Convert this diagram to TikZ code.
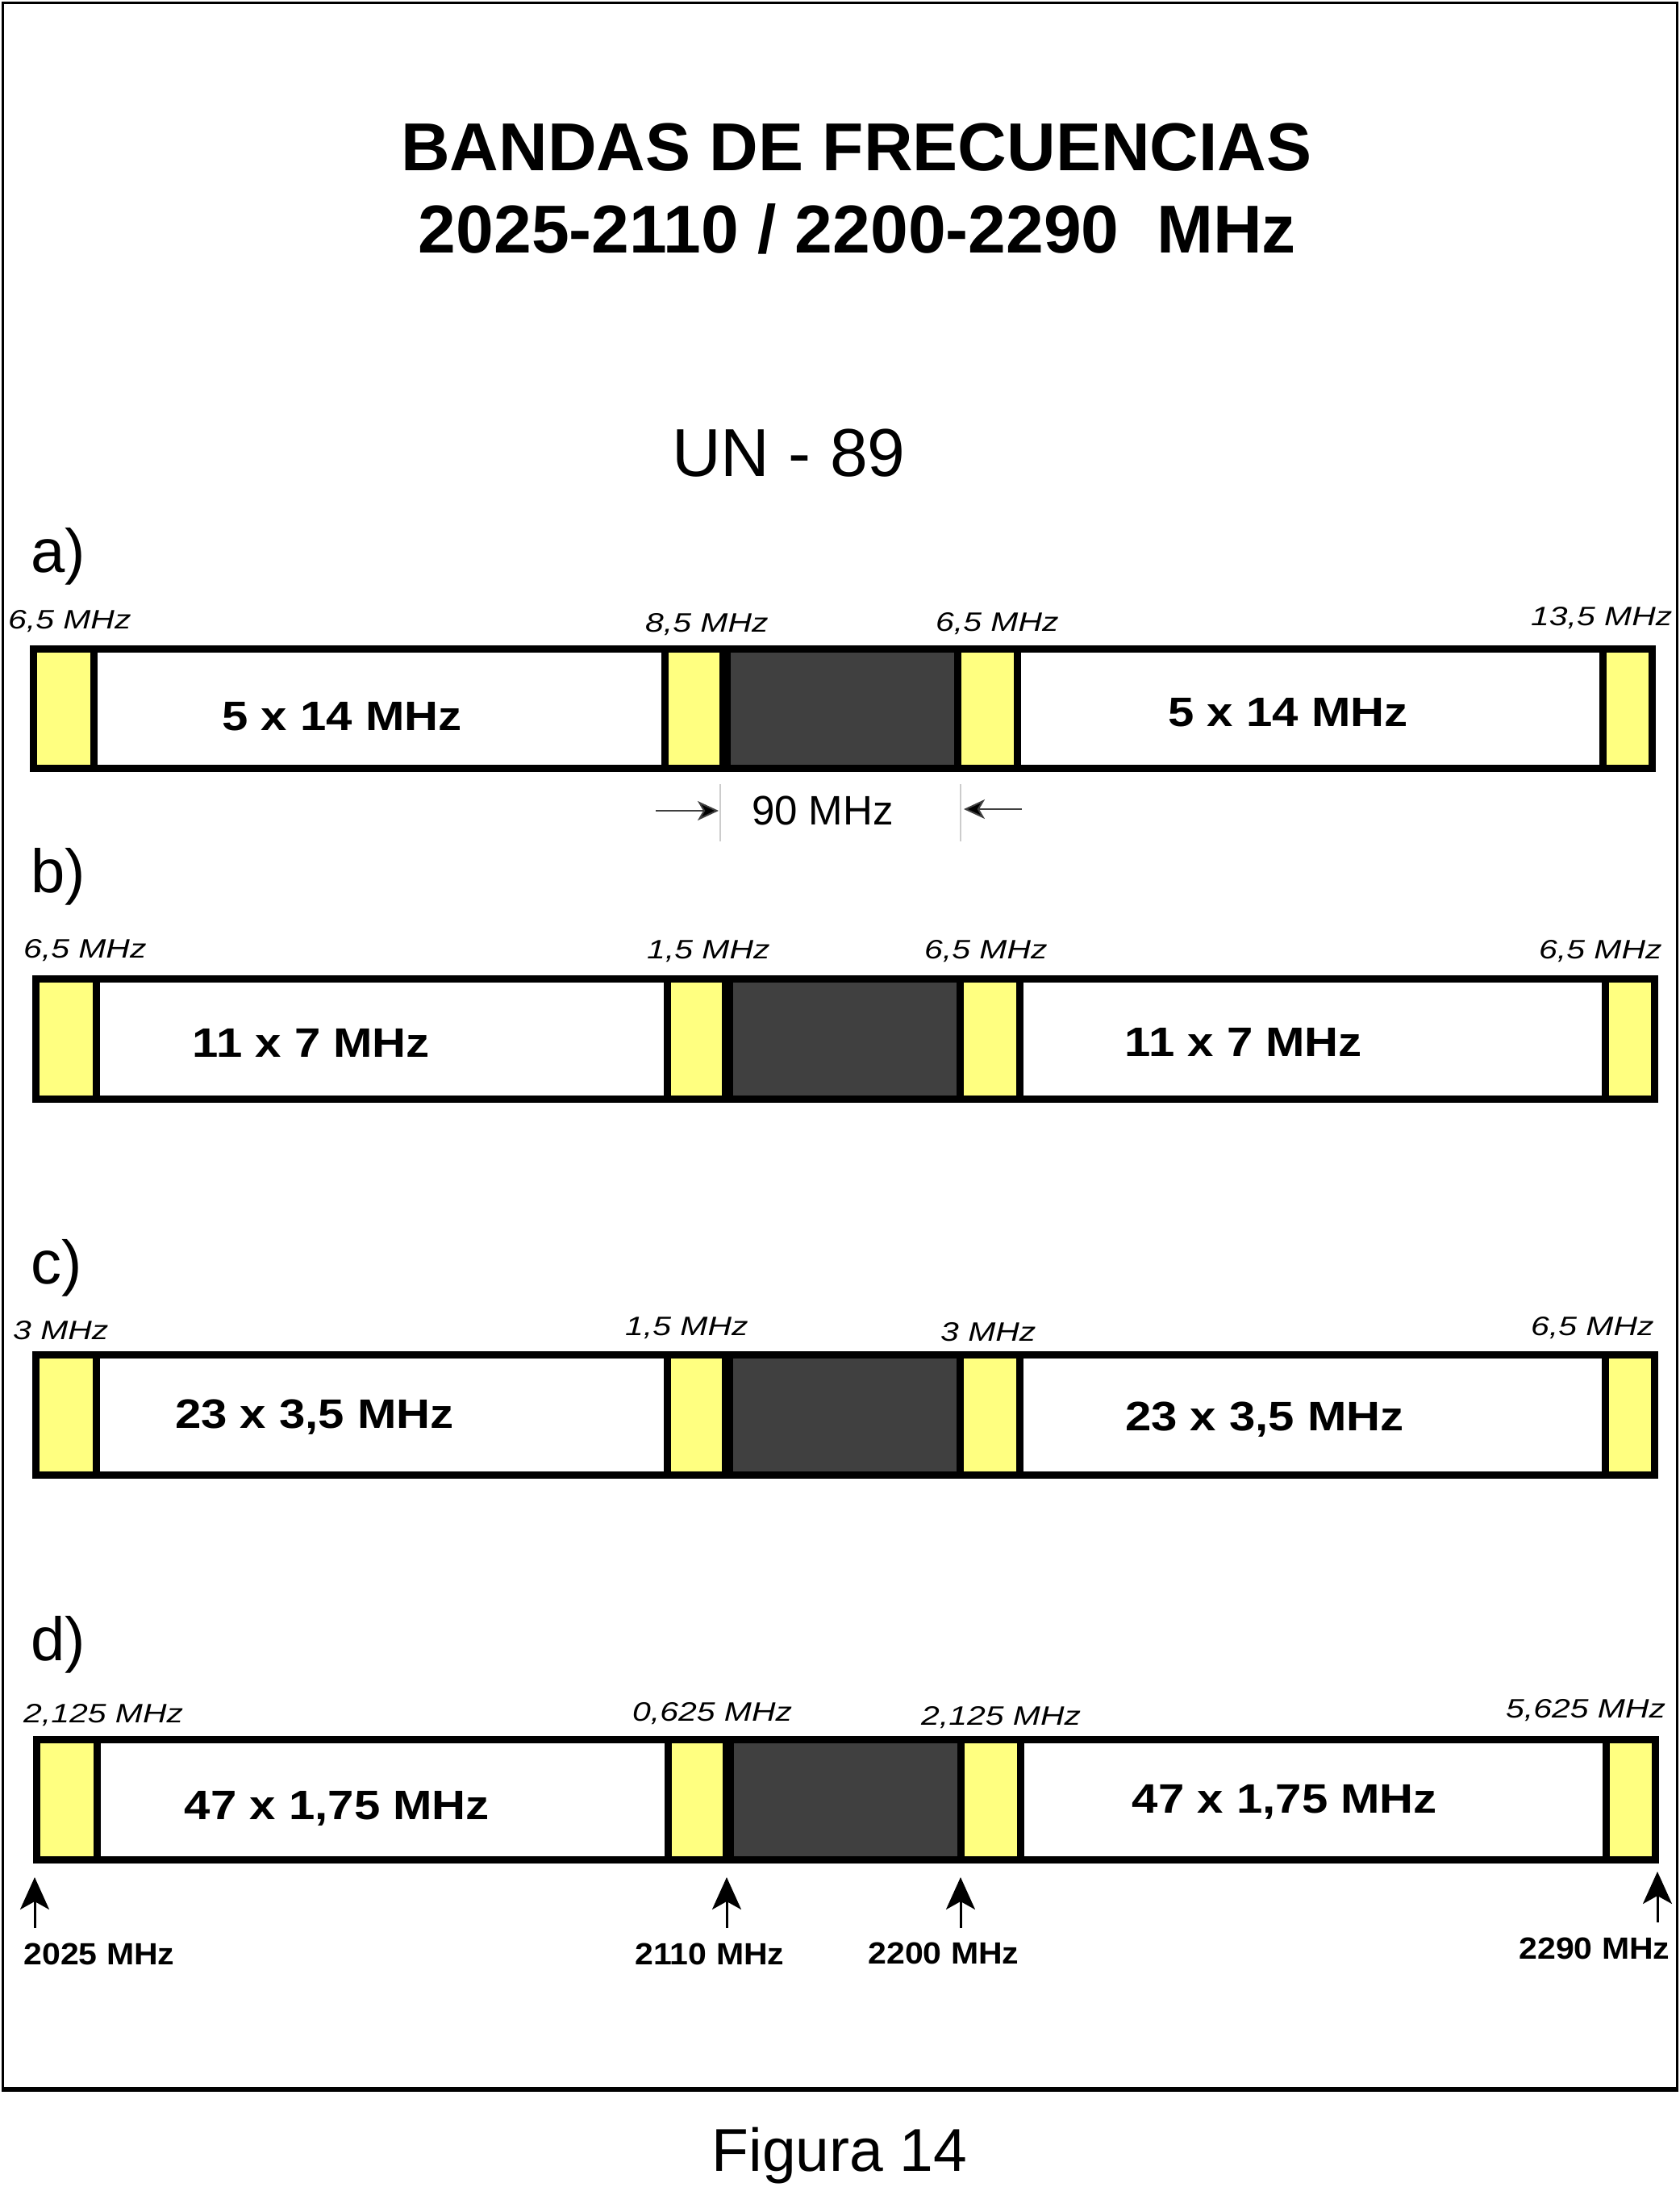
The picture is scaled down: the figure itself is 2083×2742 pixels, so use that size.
\documentclass[tikz,border=0pt]{standalone}
\usepackage{fontspec}
\setmainfont{Liberation Sans}
\usetikzlibrary{arrows.meta}
\definecolor{bandyellow}{RGB}{255,255,128}
\definecolor{guarddark}{RGB}{64,64,64}
\newcommand\wx[2]{\scalebox{#1}[1]{#2}}
% #1 top, #2 bottom, #3 horizontal offset
\newcommand\bandbar[3]{%
  \begin{scope}[shift={(#3,0)}]
    \fill[white] (41.5,#1) rectangle (2048.5,#2);
    \fill[bandyellow] (41.5,#1) rectangle (116,#2);
    \fill[bandyellow] (824.5,#1) rectangle (898.5,#2);
    \fill[guarddark] (898.5,#1) rectangle (1187.5,#2);
    \fill[bandyellow] (1187.5,#1) rectangle (1261,#2);
    \fill[bandyellow] (1987,#1) rectangle (2048.5,#2);
    \draw[barline] (41.5,#1) rectangle (2048.5,#2);
    \foreach \xx in {116,824.5,1187.5,1261,1987}{\draw[barline] (\xx,#1) -- (\xx,#2);}
    \draw[barline,line width=14] (898.5,#1) -- (898.5,#2);
  \end{scope}}
\tikzset{
  barline/.style={line width=9, black},
  gaplbl/.style={font=\fontsize{33}{33}\selectfont\itshape, inner sep=0, anchor=base west},
  chlbl/.style={font=\fontsize{51}{51}\selectfont\bfseries, inner sep=0, anchor=base},
  freqlbl/.style={font=\fontsize{38}{38}\selectfont\bfseries, inner sep=0, anchor=base},
  partlbl/.style={font=\fontsize{76}{76}\selectfont, inner sep=0, anchor=base west},
  freqarrow/.style={line width=3, -{Stealth[length=40, width=36, inset=10]}},
  duparrow/.style={line width=2, black!75, -{Stealth[length=26, width=24, inset=7, fill=black]}},
}
\begin{document}
\begin{tikzpicture}[x=1pt, y=-1pt]
\useasboundingbox (0,0) rectangle (2083,2742);
\fill[white] (0,0) rectangle (2083,2742);
% frame
\draw[line width=3] (3.5,3.5) rectangle (2079,2589);
\draw[line width=6] (2,2590) -- (2080.5,2590);

% title
\node[font=\fontsize{84}{84}\selectfont\bfseries, inner sep=0, anchor=base] (title1) at (1062,211) {BANDAS DE FRECUENCIAS};
\node[font=\fontsize{84}{84}\selectfont\bfseries, inner sep=0, anchor=base] (title2) at (1063,313) {2025-2110 / 2200-2290~~MHz};
\node[font=\fontsize{84}{84}\selectfont, inner sep=0, anchor=base] (un89) at (978,590) {UN - 89};

% part labels
\node[partlbl] (pa) at (38,709) {a)};
\node[partlbl] (pb) at (38,1106) {b)};
\node[partlbl] (pc) at (38,1591) {c)};
\node[partlbl] (pd) at (38,2058) {d)};

% bars
\bandbar{804.5}{952.5}{0}
\bandbar{1213.5}{1362.5}{3}
\bandbar{1679.5}{1828.5}{3}
\bandbar{2156.5}{2305.5}{4}

% a)
\node[gaplbl] (a1) at (10,779) {\wx{1.24}{6,5 MHz}};
\node[gaplbl] (a2) at (800,783) {\wx{1.24}{8,5 MHz}};
\node[gaplbl] (a3) at (1160,782) {\wx{1.24}{6,5 MHz}};
\node[gaplbl] (a4) at (1898,775) {\wx{1.24}{13,5 MHz}};
\node[chlbl] (ach1) at (424,905) {\wx{1.14}{5 x 14 MHz}};
\node[chlbl] (ach2) at (1597,900) {\wx{1.14}{5 x 14 MHz}};

% 90 MHz duplex spacing
\node[font=\fontsize{51}{51}\selectfont, inner sep=0, anchor=base] (dup) at (1020,1022) {90 MHz};
\coordinate (vl1t) at (893,972); \coordinate (vl1b) at (893,1043);
\coordinate (vl2t) at (1191,972); \coordinate (vl2b) at (1191,1043);
\draw[line width=2, black!20] (vl1t) -- (vl1b);
\draw[line width=2, black!20] (vl2t) -- (vl2b);
\coordinate (ar1s) at (813,1005); \coordinate (ar1e) at (891,1005);
\coordinate (ar2s) at (1267,1003); \coordinate (ar2e) at (1195,1003);
\draw[duparrow] (ar1s) -- (ar1e);
\draw[duparrow] (ar2s) -- (ar2e);

% b)
\node[gaplbl] (b1) at (29,1187) {\wx{1.24}{6,5 MHz}};
\node[gaplbl] (b2) at (802,1188) {\wx{1.24}{1,5 MHz}};
\node[gaplbl] (b3) at (1146,1188) {\wx{1.24}{6,5 MHz}};
\node[gaplbl] (b4) at (1908,1188) {\wx{1.24}{6,5 MHz}};
\node[chlbl] (bch1) at (386,1310) {\wx{1.14}{11 x 7 MHz}};
\node[chlbl] (bch2) at (1542,1309) {\wx{1.14}{11 x 7 MHz}};

% c)
\node[gaplbl] (c1) at (16,1660) {\wx{1.24}{3 MHz}};
\node[gaplbl] (c2) at (775,1655) {\wx{1.24}{1,5 MHz}};
\node[gaplbl] (c3) at (1166,1662) {\wx{1.24}{3 MHz}};
\node[gaplbl] (c4) at (1898,1655) {\wx{1.24}{6,5 MHz}};
\node[chlbl] (cch1) at (390,1770) {\wx{1.14}{23 x 3,5 MHz}};
\node[chlbl] (cch2) at (1568,1773) {\wx{1.14}{23 x 3,5 MHz}};

% d)
\node[gaplbl] (d1) at (29,2135) {\wx{1.24}{2,125 MHz}};
\node[gaplbl] (d2) at (784,2133) {\wx{1.24}{0,625 MHz}};
\node[gaplbl] (d3) at (1142,2138) {\wx{1.24}{2,125 MHz}};
\node[gaplbl] (d4) at (1867,2129) {\wx{1.24}{5,625 MHz}};
\node[chlbl] (dch1) at (418,2255) {\wx{1.14}{47 x 1,75 MHz}};
\node[chlbl] (dch2) at (1593,2247) {\wx{1.14}{47 x 1,75 MHz}};

% band edge frequencies
\node[freqlbl] (f2025) at (123,2435) {\wx{1.08}{2025 MHz}};
\node[freqlbl] (f2110) at (880,2435) {\wx{1.08}{2110 MHz}};
\node[freqlbl] (f2200) at (1170,2434) {\wx{1.08}{2200 MHz}};
\node[freqlbl] (f2290) at (1977,2428) {\wx{1.08}{2290 MHz}};
\coordinate (t2025) at (43,2327);  \coordinate (s2025) at (43,2390);
\coordinate (t2110) at (901,2327); \coordinate (s2110) at (901,2390);
\coordinate (t2200) at (1191,2327); \coordinate (s2200) at (1191,2390);
\coordinate (t2290) at (2055,2320); \coordinate (s2290) at (2055,2383);
\draw[freqarrow] (s2025) -- (t2025);
\draw[freqarrow] (s2110) -- (t2110);
\draw[freqarrow] (s2200) -- (t2200);
\draw[freqarrow] (s2290) -- (t2290);

% caption
\node[font=\fontsize{75}{75}\selectfont, inner sep=0, anchor=base] (fig) at (1041,2691) {Figura 14};
\end{tikzpicture}
\end{document}
